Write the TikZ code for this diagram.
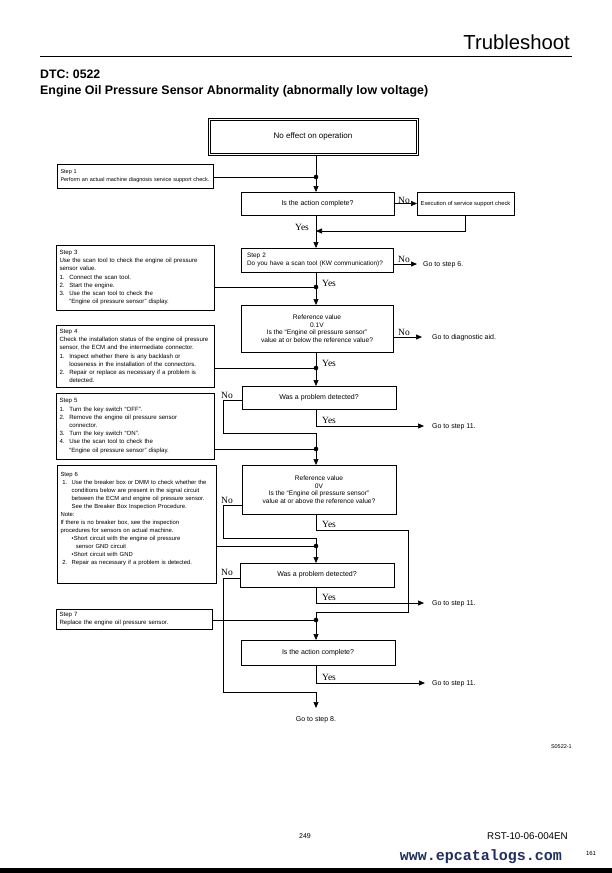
\documentclass[tikz,border=0pt]{standalone}
\usepackage{fontspec}
\setmainfont{Liberation Sans}
\newfontfamily\ynfont{Liberation Serif}
\newfontfamily\webfont{Liberation Mono}
\usetikzlibrary{arrows.meta}
\definecolor{web}{HTML}{1F2F5F}
\newcommand{\itm}[2]{\makebox[1.6em][l]{#1}#2}
\newcommand{\cnt}[1]{\hspace*{1.6em}#1}
\begin{document}
\begin{tikzpicture}[x=1pt,y=-1pt,
  ln/.style={line width=0.7pt},
  arr/.style={ln,-{Triangle[length=6pt,width=5pt]}},
  box/.style={draw,line width=0.7pt,inner sep=0pt,outer sep=0pt,anchor=north west},
  stepbox/.style={box,align=left,inner xsep=3.5pt,font=\fontsize{6.1}{8.2}\selectfont},
  qbox/.style={box,align=center,font=\fontsize{7}{8}\selectfont},
  refbox/.style={box,align=center,font=\fontsize{6.6}{7.6}\selectfont},
  yn/.style={font=\ynfont\fontsize{9.5}{10}\selectfont,inner sep=0pt},
  goto/.style={font=\fontsize{7}{8}\selectfont,anchor=west,inner sep=0pt},
  dot/.style={circle,fill,inner sep=0pt,minimum size=4.6pt}]
\useasboundingbox (0,0) rectangle (612,873);
\fill[white] (0,0) rectangle (612,873);

% header
\node[anchor=base east,inner sep=0pt,font=\fontsize{20.3}{24}\selectfont] (hdr) at (570,49) {Trubleshoot};
\draw[line width=1pt] (40,56) -- (572,56);
\node[anchor=base west,inner sep=0pt,font=\bfseries\fontsize{12.3}{14}\selectfont] (dtc) at (40,78.5) {DTC: 0522};
\node[anchor=base west,inner sep=0pt,font=\bfseries\fontsize{12.4}{14}\selectfont] (ttl) at (40,94) {Engine Oil Pressure Sensor Abnormality (abnormally low voltage)};

\coordinate (M) at (316,0);

% boxes
\node[box,line width=0.6pt,minimum width=210pt,minimum height=37pt,font=\fontsize{8}{9}\selectfont] (top) at (208,118) {No effect on operation};
\draw[line width=0.6pt] ([xshift=2.2pt,yshift=-2.2pt]top.north west) rectangle ([xshift=-2.2pt,yshift=2.2pt]top.south east);
\node[stepbox,font=\fontsize{5.5}{7.6}\selectfont,text width=149pt,minimum width=156pt,minimum height=24pt] (s1) at (57,164) {Step 1\\Perform an actual machine diagnosis service support check.};
\node[qbox,minimum width=153pt,minimum height=23pt] (q1) at (241,192) {Is the action complete?};
\node[qbox,font=\fontsize{5.8}{7}\selectfont,minimum width=97pt,minimum height=23pt] (ex) at (417,192) {Execution of service support check};
\node[stepbox,font=\fontsize{6.4}{8.8}\selectfont,inner xsep=6pt,text width=140pt,minimum width=152pt,minimum height=24pt] (s2) at (241,248) {Step 2\\Do you have a scan tool (KW communication)?};
\node[stepbox,text width=151pt,minimum width=158pt,minimum height=65pt] (s3) at (56,245) {Step 3\\Use the scan tool to check the engine oil pressure\\sensor value.\\\itm{1.}{Connect the scan tool.}\\\itm{2.}{Start the engine.}\\\itm{3.}{Use the scan tool to check the}\\\cnt{“Engine oil pressure sensor” display.}};
\node[refbox,minimum width=152pt,minimum height=47pt] (r1) at (241,305) {Reference value\\0.1V\\Is the “Engine oil pressure sensor”\\value at or below the reference value?};
\node[stepbox,text width=151pt,minimum width=158pt,minimum height=62pt] (s4) at (56,325) {Step 4\\Check the installation status of the engine oil pressure\\sensor, the ECM and the intermediate connector.\\\itm{1.}{Inspect whether there is any backlash or}\\\cnt{looseness in the installation of the connectors.}\\\itm{2.}{Repair or replace as necessary if a problem is}\\\cnt{detected.}};
\node[qbox,minimum width=154pt,minimum height=23pt] (p1) at (242,386) {Was a problem detected?};
\node[stepbox,text width=151pt,minimum width=158pt,minimum height=66pt] (s5) at (56,393) {Step 5\\\itm{1.}{Turn the key switch “OFF”.}\\\itm{2.}{Remove the engine oil pressure sensor}\\\cnt{connector.}\\\itm{3.}{Turn the key switch “ON”.}\\\itm{4.}{Use the scan tool to check the}\\\cnt{“Engine oil pressure sensor” display.}};
\node[refbox,minimum width=154pt,minimum height=49pt] (r2) at (242,465) {Reference value\\0V\\Is the “Engine oil pressure sensor”\\value at or above the reference value?};
\node[stepbox,font=\fontsize{5.9}{8}\selectfont,text width=152pt,minimum width=159pt,minimum height=118pt] (s6) at (57,465) {Step 6\\\hspace*{0.3em}\itm{1.}{Use the breaker box or DMM to check whether the}\\\hspace*{0.3em}\cnt{conditions below are present in the signal circuit}\\\hspace*{0.3em}\cnt{between the ECM and engine oil pressure sensor.}\\\hspace*{0.3em}\cnt{See the Breaker Box Inspection Procedure.}\\Note:\\If there is no breaker box, see the inspection\\procedures for sensors on actual machine.\\\hspace*{1.9em}•Short circuit with the engine oil pressure\\\hspace*{2.6em}sensor GND circuit\\\hspace*{1.9em}•Short circuit with GND\\\hspace*{0.3em}\itm{2.}{Repair as necessary if a problem is detected.}\\[3pt]\mbox{}};
\node[qbox,minimum width=154pt,minimum height=24pt] (p2) at (240,563) {Was a problem detected?};
\node[stepbox,text width=149pt,minimum width=156pt,minimum height=20pt] (s7) at (56,609) {Step 7\\Replace the engine oil pressure sensor.};
\node[qbox,minimum width=154pt,minimum height=25pt] (q2) at (241,640) {Is the action complete?};

% dots
\node[dot] (d1) at (316,177) {};
\node[dot] (d3) at (316,287) {};
\node[dot] (d4) at (316,368) {};
\node[dot] (d5) at (316,449) {};
\node[dot] (d6) at (316,546) {};
\node[dot] (d7) at (316,620) {};

% goto texts
\node[goto] (g6) at (423,265) {Go to step 6.};
\node[goto] (gd) at (432,338) {Go to diagnostic aid.};
\node[goto] (g11a) at (432,427) {Go to step 11.};
\node[goto] (g11b) at (432,604) {Go to step 11.};
\node[goto] (g11c) at (432,684) {Go to step 11.};
\node[goto,anchor=center] (g8) at (316,720) {Go to step 8.};

% helper coordinates
\coordinate (c1) at (465,231);
\coordinate (L2) at (0,264);
\coordinate (L3) at (0,337);
\coordinate (k1) at (223,433);
\coordinate (y1) at (424,426);
\coordinate (k2) at (223,538);
\coordinate (lp1) at (408,530);
\coordinate (lp2) at (408,612);
\coordinate (y2) at (424,603);
\coordinate (k3) at (223,692);
\coordinate (e8) at (316,708);
\coordinate (y3) at (425,683);

% connectors
\draw[arr] (top.south -| M) -- (q1.north -| M);
\draw[ln] (s1.east |- d1) -- (d1.center);
\draw[arr] (q1.east) -- (ex.west);
\draw[arr] (ex.south -| c1) -- (c1) -- (M |- c1);
\draw[arr] (q1.south -| M) -- (s2.north -| M);
\draw[arr] (s2.east |- L2) -- ([xshift=-6pt]g6.west |- L2);
\draw[arr] (s2.south -| M) -- (r1.north -| M);
\draw[ln] (s3.east |- d3) -- (d3.center);
\draw[arr] (r1.east |- L3) -- ([xshift=-10pt]gd.west |- L3);
\draw[arr] (r1.south -| M) -- (p1.north -| M);
\draw[ln] (s4.east |- d4) -- (d4.center);
\draw[ln] ([yshift=-3pt]p1.west) -- ([yshift=-3pt]p1.west -| k1) -- (k1) -- (M |- k1);
\draw[arr] (p1.south -| M) -- (M |- y1) -- (y1);
\draw[arr] (M |- k1) -- (r2.north -| M);
\draw[ln] (s5.east |- d5) -- (d5.center);
\draw[ln] ([yshift=-15.5pt]r2.west) -- ([yshift=-15.5pt]r2.west -| k2) -- (k2) -- (M |- k2);
\draw[ln] (r2.south -| M) -- (M |- lp1) -- (lp1) -- (lp2) -- (M |- lp2);
\draw[arr] (M |- k2) -- (p2.north -| M);
\draw[ln] (s6.east |- d6) -- (d6.center);
\draw[arr] (p2.south -| M) -- (M |- y2) -- (y2);
\draw[ln] ([yshift=-3pt]p2.west) -- ([yshift=-3pt]p2.west -| k3) -- (k3) -- (e8 |- k3);
\draw[arr] (e8 |- k3) -- (e8);
\draw[arr] (M |- lp2) -- (q2.north -| M);
\draw[ln] (s7.east |- d7) -- (d7.center);
\draw[arr] (q2.south -| M) -- (M |- y3) -- (y3);

% yes / no labels
\node[yn] (n1) at (404,200) {No};
\node[yn] (yes1) at (302,227) {Yes};
\node[yn] (n2) at (404,259) {No};
\node[yn] (yes3) at (329,283) {Yes};
\node[yn] (n3) at (404,332) {No};
\node[yn] (yes4) at (329,363) {Yes};
\node[yn] (n4) at (227,395) {No};
\node[yn] (yes5) at (329,420) {Yes};
\node[yn] (n5) at (227,500) {No};
\node[yn] (yes6) at (329,524) {Yes};
\node[yn] (n6) at (227,572) {No};
\node[yn] (yes7) at (329,597) {Yes};
\node[yn] (yes8) at (329,677) {Yes};

% footer
\node[font=\fontsize{5.5}{6}\selectfont,anchor=east,inner sep=0pt] (code) at (572,747) {S0522-1};
\node[font=\fontsize{7}{8}\selectfont,inner sep=0pt] (pg) at (305,836) {249};
\node[font=\fontsize{9.8}{11}\selectfont,anchor=east,inner sep=0pt] (rst) at (568,836) {RST-10-06-004EN};
\node[font=\webfont\bfseries\fontsize{15}{16}\selectfont,text=web,anchor=east,inner sep=0pt] (www) at (562,857) {www.epcatalogs.com};
\node[font=\fontsize{6}{7}\selectfont,inner sep=0pt] (p161) at (591,853) {161};
\fill[black] (0,868) rectangle (612,873);
\end{tikzpicture}
\end{document}
